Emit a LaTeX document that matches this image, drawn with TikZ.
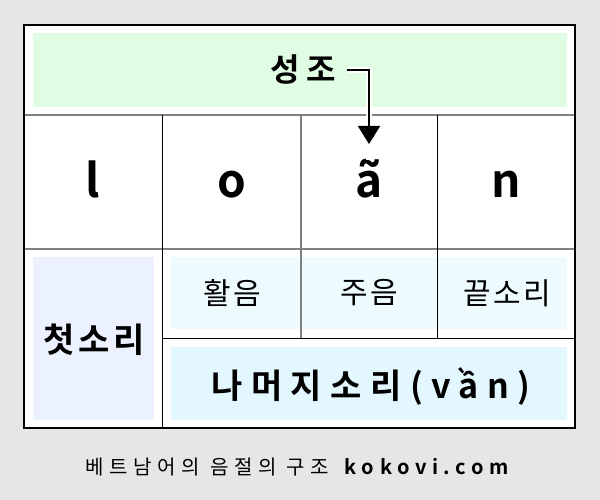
\documentclass[tikz,border=0pt]{standalone}
\usepackage{fontspec}
\setmainfont{Noto Sans CJK KR}[BoldFont={Noto Sans CJK KR Bold}]
\usetikzlibrary{arrows.meta,positioning}
\definecolor{canvas}{RGB}{230,230,230}
\definecolor{tonegreen}{RGB}{224,252,226}
\definecolor{initblue}{RGB}{235,241,254}
\definecolor{glidecyan}{RGB}{238,251,254}
\definecolor{rimecyan}{RGB}{227,247,254}
\definecolor{midgray}{RGB}{128,128,128}
\tikzset{
  basic/.style  = {inner sep=2pt, text=black},
  tonetext/.style = {basic, font=\bfseries\fontsize{32}{38}\selectfont},
  letter/.style   = {basic, anchor=base, font=\bfseries\fontsize{46}{52}\selectfont},
  part/.style     = {basic, font=\fontsize{30}{36}\selectfont\addfontfeatures{LetterSpace=8}},
  initial/.style  = {basic, font=\bfseries\fontsize{34}{40}\selectfont\addfontfeatures{LetterSpace=12}},
  rime/.style     = {basic, font=\bfseries\fontsize{34}{40}\selectfont\addfontfeatures{LetterSpace=25}},
  caption/.style  = {basic, font=\fontsize{20}{24}\selectfont\addfontfeatures{LetterSpace=28}},
  grid/.style     = {draw=black, line width=1pt},
  softgrid/.style = {draw=midgray, line width=1.6pt}
}

\begin{document}
\begin{tikzpicture}[x=1pt, y=-1pt, >=Triangle]

% canvas and table body
\fill[canvas] (0,0) rectangle (600,500);
\useasboundingbox (0,0) rectangle (600,500);
\fill[white] (24,25) rectangle (575,428);

% coloured panels inside the cells
\fill[tonegreen] (33,33) rectangle (567,107);
\fill[initblue] (33,257) rectangle (154,420);
\fill[glidecyan] (171,257) rectangle (567,329);
\fill[rimecyan] (171,347) rectangle (567,420);

% rules of the table
\draw[softgrid] (24,115) -- (575,115);
\draw[softgrid] (24,249) -- (575,249);
\draw[grid] (162,338) -- (575,338);
\draw[grid] (162,115) -- (162,428);
\draw[softgrid] (301,115) -- (301,338);
\draw[grid] (437,115) -- (437,338);
\draw[black, line width=1.5pt] (24,25) rectangle (575,428);

% header row
\node[tonetext] (tone) at (303,70) {성\hspace{7pt}조};

% the letters of the syllable
\node[letter] (l) at (93,197) {l};
\node[letter] (o) at (232,197) {o};
\node[letter] (a) at (369,197) {ã};
\node[letter] (n) at (506,197) {n};
\coordinate (tip) at (369,144);

% tone mark goes onto the vowel
\draw[white, line width=6pt] ([xshift=9pt]tone.east) -| ([yshift=-16pt]tip);
\draw[->, line width=2pt, -{Triangle[width=22pt,length=18pt]}] ([xshift=9pt]tone.east) -| (tip);

% lower rows
\node[initial] (first) at (94,340) {첫소리};
\node[part] (glide) at (232,293) {활음};
\node[part] (main) at (369,293) {주음};
\node[part] (final) at (507,293) {끝소리};
\node[rime] (rest) at (371,386) {나머지소리(vần)};

% caption under the table
\node[caption] (cap) at (300,467) {베트남어의 음절의 구조 \textbf{kokovi.com}};

\end{tikzpicture}
\end{document}
